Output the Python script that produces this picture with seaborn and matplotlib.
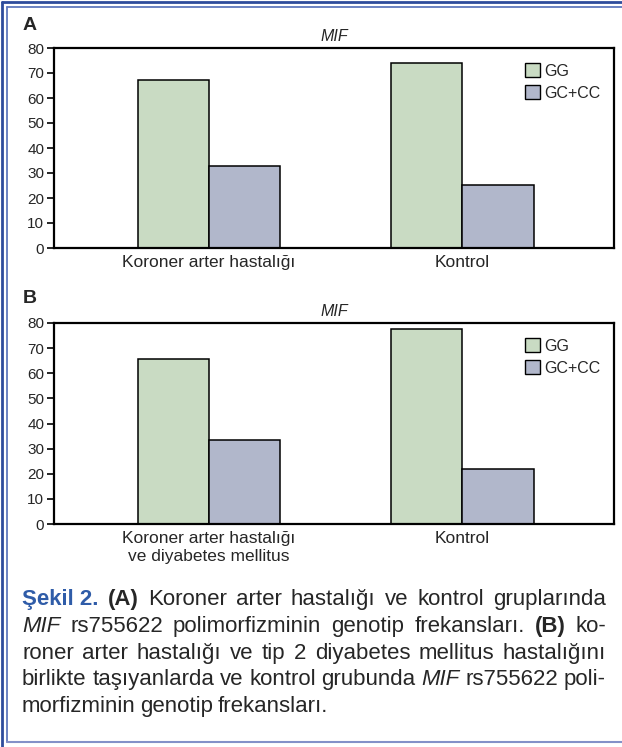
import matplotlib
matplotlib.use("Agg")
import matplotlib.pyplot as plt
import pandas as pd
import seaborn as sns
from matplotlib.lines import Line2D

# data (%)
genotypes = ["GG", "GC+CC"]
groups_a = ["Koroner arter hastalığı", "Kontrol"]
groups_b = ["Koroner arter hastalığı\nve diyabetes mellitus", "Kontrol"]
gg_a = [67.1, 74.2]
gc_a = [32.9, 25.3]
gg_b = [65.7, 77.5]
gc_b = [33.6, 21.9]
yticks = [0, 10, 20, 30, 40, 50, 60, 70, 80]
colors = ["#c7dfbf", "#adb4cf"]

caption_lines = [
    [("Şekil 2.", "blue"), ("(A)", "b"), ("Koroner", "n"), ("arter", "n"), ("hastalığı", "n"),
     ("ve", "n"), ("kontrol", "n"), ("gruplarında", "n")],
    [("MIF", "i"), ("rs755622", "n"), ("polimorfizminin", "n"), ("genotip", "n"),
     ("frekansları.", "n"), ("(B)", "b"), ("ko-", "n")],
    [(w, "n") for w in "roner arter hastalığı ve tip 2 diyabetes mellitus hastalığını".split()],
    [("birlikte", "n"), ("taşıyanlarda", "n"), ("ve", "n"), ("kontrol", "n"), ("grubunda", "n"),
     ("MIF", "i"), ("rs755622", "n"), ("poli-", "n")],
    [(w, "n") for w in "morfizminin genotip frekansları.".split()],
]

sns.set_style("ticks")
plt.rcParams["font.family"] = ["Liberation Sans", "DejaVu Sans"]

W, H = 622, 747
fig = plt.figure(figsize=(W / 100, H / 100), dpi=100)


def make_df(groups, gg, gc):
    rows = []
    for g, a, b in zip(groups, gg, gc):
        rows.append({"group": g, "genotype": genotypes[0], "value": a})
        rows.append({"group": g, "genotype": genotypes[1], "value": b})
    return pd.DataFrame(rows)


def panel(rect, df, letter, letter_y):
    ax = fig.add_axes(rect)
    sns.barplot(data=df, x="group", y="value", hue="genotype", palette=colors,
                width=0.562, edgecolor="black", linewidth=1.1, ax=ax)
    ax.set_xlim(-0.611, 1.598)
    ax.set_ylim(0, 80)
    ax.set_yticks(yticks)
    ax.set_xlabel("")
    ax.set_ylabel("")
    ax.tick_params(axis="y", direction="out", length=5, width=1.4, labelsize=11, pad=2)
    ax.tick_params(axis="x", length=0, labelsize=12.5, pad=5)
    for lab in ax.get_xticklabels():
        lab.set_linespacing(1.25)
    for s in ax.spines.values():
        s.set_visible(True)
        s.set_linewidth(1.6)
        s.set_color("black")
    ax.set_title("MIF", fontstyle="italic", fontsize=11.5, pad=5)
    handles, labels = ax.get_legend_handles_labels()
    ax.legend(handles, labels, loc="upper left", bbox_to_anchor=(0.83, 0.955),
              frameon=False, fontsize=11.5, handlelength=0.95, handleheight=0.95,
              handletextpad=0.25, labelspacing=0.4, borderaxespad=0)
    for p in ax.get_legend().get_patches():
        p.set_edgecolor("black")
        p.set_linewidth(1.0)
    fig.text(23 / W, 1 - letter_y / H, letter, fontsize=14, fontweight="bold",
             va="center", ha="left")
    return ax


panel([54 / W, 1 - 248 / H, 560 / W, 200 / H], make_df(groups_a, gg_a, gc_a), "A", 25)
panel([54 / W, 1 - 524 / H, 560 / W, 201 / H], make_df(groups_b, gg_b, gc_b), "B", 298)

# justified caption, laid out word by word
renderer = fig.canvas.get_renderer()
styles = {
    "n": dict(),
    "b": dict(fontweight="bold"),
    "i": dict(fontstyle="italic"),
    "blue": dict(fontweight="bold", color="#2f5ca8"),
}
left, right = 22, 606
y0, dy = 605, 26.8
for li, line in enumerate(caption_lines):
    y = 1 - (y0 + li * dy) / H
    txts = [fig.text(0, y, w, fontsize=16, va="baseline", ha="left", **styles[s])
            for w, s in line]
    widths = [t.get_window_extent(renderer).width for t in txts]
    if li < len(caption_lines) - 1:
        gap = (right - left - sum(widths)) / (len(txts) - 1)
    else:
        gap = 4.4
    x = left
    for t, w in zip(txts, widths):
        t.set_x(x / W)
        x += w + gap

# blue frame
def fline(xs, ys, c, lw):
    fig.add_artist(Line2D([v / W for v in xs], [1 - v / H for v in ys],
                          color=c, lw=lw, transform=fig.transFigure))

fline([1.5, W], [1.5, 1.5], "#2e4c9c", 2.0)
fline([6.5, W], [6.5, 6.5], "#5f78bd", 1.3)
fline([1.5, 1.5], [1.5, H], "#2e4c9c", 2.0)
fline([6.5, 6.5], [6.5, 742], "#5f78bd", 1.3)
fline([6.5, W], [742, 742], "#8391c8", 1.5)

fig.savefig("out.png", dpi=100)
